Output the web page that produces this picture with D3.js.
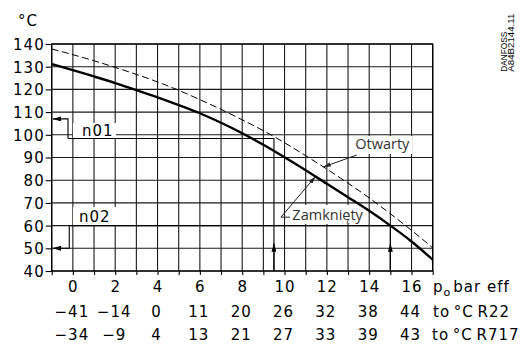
<!DOCTYPE html>
<html>
<head>
<meta charset="utf-8">
<script src="https://cdn.jsdelivr.net/npm/d3@7"></script>
<style>
  html, body { margin: 0; padding: 0; background: #fff; }
  svg { display: block; }
  .lbl { font-family: "DejaVu Sans", sans-serif; font-size: 15px; letter-spacing: 1px; fill: #000; }
  .note { font-family: "Open Sans", sans-serif; font-size: 14.5px; fill: #333; }
</style>
</head>
<body>
<svg id="chart" width="523" height="344"></svg>
<script>
// Evaporating pressure grid (bar eff) and temperature grid (°C)
const pressureGrid = d3.range(-1, 18);
const pressureTicks = [0, 2, 4, 6, 8, 10, 12, 14, 16];
const tempTicks = [40, 50, 60, 70, 80, 90, 100, 110, 120, 130, 140];
// Saturation temperatures at the labelled pressures
const r22Temps = ["\u221241", "\u221214", "0", "11", "20", "26", "32", "38", "44"];
const r717Temps = ["\u221234", "\u22129", "4", "13", "21", "27", "33", "39", "43"];

// Curves: temperature vs pressure
const curvePressures = [-1, 0, 1, 2, 3, 4, 5, 6, 7, 8, 9, 10, 11, 12, 13, 14, 15, 16, 17];
const zamkniety = [131.2, 128.5, 125.7, 122.8, 119.7, 116.5, 113.1, 109.5, 105.3, 100.7, 95.6, 90.1, 84.4, 78.4, 72.5, 66.5, 60.0, 53.0, 45.0];
const otwarty = [137.8, 135.3, 132.6, 129.7, 126.6, 123.3, 119.6, 115.5, 111.2, 106.6, 101.8, 96.5, 90.8, 84.9, 78.7, 72.2, 65.2, 57.9, 50.2];

// Setting examples n01 / n02: set temperature, step temperature, pressure
const n01 = { arrowTemp: 107, stepTemp: 98.4, pressure: 9.5, stepP: -0.23 };
const n02 = { arrowTemp: 50, stepTemp: 60, pressure: 15, stepP: -0.17 };

const W = 523, H = 344;
const margin = { top: 44, right: 90.3, bottom: 73, left: 51.7 };
const svg = d3.select("#chart");

const x = d3.scaleLinear().domain([-1, 17]).range([margin.left, W - margin.right]);
const y = d3.scaleLinear().domain([40, 140]).range([H - margin.bottom, margin.top]);

// defs: arrow heads
const defs = svg.append("defs");
defs.append("marker")
  .attr("id", "arrow")
  .attr("viewBox", "0 0 10 6")
  .attr("refX", 10).attr("refY", 3)
  .attr("markerWidth", 10).attr("markerHeight", 5)
  .attr("markerUnits", "userSpaceOnUse")
  .attr("orient", "auto")
  .append("path").attr("d", "M0,0 L10,3 L0,6 Z").attr("fill", "#000");
defs.append("marker")
  .attr("id", "arrowS")
  .attr("viewBox", "0 0 10 6")
  .attr("refX", 10).attr("refY", 3)
  .attr("markerWidth", 8).attr("markerHeight", 4.5)
  .attr("markerUnits", "userSpaceOnUse")
  .attr("orient", "auto")
  .append("path").attr("d", "M0,0 L10,3 L0,6 Z").attr("fill", "#222");

// grid
const grid = svg.append("g").attr("stroke", "#1a1a1a").attr("stroke-width", 1.1);
grid.selectAll("line.v").data(pressureGrid).join("line")
  .attr("x1", d => x(d)).attr("x2", d => x(d))
  .attr("y1", y(140)).attr("y2", y(40));
grid.selectAll("line.h").data(tempTicks).join("line")
  .attr("x1", x(-1)).attr("x2", x(17))
  .attr("y1", d => y(d)).attr("y2", d => y(d));

// y axis with ticks and labels
const yAxis = svg.append("g")
  .attr("transform", `translate(${x(-1)},0)`)
  .call(d3.axisLeft(y).tickValues(tempTicks).tickSize(6).tickPadding(1).tickFormat(d3.format("d")));
yAxis.select(".domain").remove();
yAxis.selectAll(".tick line").attr("stroke", "#000").attr("stroke-width", 1.1);
yAxis.selectAll(".tick text").attr("class", "lbl").attr("dy", "0.36em").attr("fill", "#000");

// x axis ticks and first label row
const xAxis = svg.append("g")
  .attr("transform", `translate(0,${y(40)})`)
  .call(d3.axisBottom(x).tickValues(pressureGrid).tickSize(4)
    .tickFormat(d => pressureTicks.includes(d) ? String(d) : ""));
xAxis.select(".domain").remove();
xAxis.selectAll(".tick line").attr("stroke", "#000").attr("stroke-width", 1.1);
xAxis.selectAll(".tick text").attr("class", "lbl").attr("y", 21).attr("dy", 0).attr("fill", "#000");

// unit labels
svg.append("text").attr("class", "lbl").attr("x", 18).attr("y", 26).text("\u00B0C");

const row1 = 292, row2 = 316.5, row3 = 340;
const pLabel = svg.append("text").attr("class", "lbl").attr("x", 433).attr("y", row1);
pLabel.append("tspan").text("p");
pLabel.append("tspan").attr("dy", 4).attr("font-size", 11).text("o");
pLabel.append("tspan").attr("dy", -4).attr("dx", 2).text("bar eff");

svg.append("g").selectAll("text").data(r22Temps).join("text")
  .attr("class", "lbl").attr("text-anchor", "middle")
  .attr("x", (d, i) => x(pressureTicks[i]) - 1).attr("y", row2).text(d => d);
svg.append("g").selectAll("text").data(r717Temps).join("text")
  .attr("class", "lbl").attr("text-anchor", "middle")
  .attr("x", (d, i) => x(pressureTicks[i]) - 1).attr("y", row3).text(d => d);
svg.append("text").attr("class", "lbl").attr("x", 433).attr("y", row2)
  .attr("word-spacing", -2).text("to \u00B0C R22");
svg.append("text").attr("class", "lbl").attr("x", 432).attr("y", row3)
  .attr("word-spacing", -2).text("to \u00B0C R717");

// frame
svg.append("rect")
  .attr("x", x(-1)).attr("y", y(140))
  .attr("width", x(17) - x(-1)).attr("height", y(40) - y(140))
  .attr("fill", "none").attr("stroke", "#000").attr("stroke-width", 1.3);

// white backgrounds under annotation texts
const bg = svg.append("g").attr("fill", "#fff");
bg.append("rect").attr("x", 73).attr("y", 123).attr("width", 43).attr("height", 15);
bg.append("rect").attr("x", 73).attr("y", 207).attr("width", 55).attr("height", 18);
bg.append("rect").attr("x", 351).attr("y", 136).attr("width", 61).attr("height", 18);
bg.append("rect").attr("x", 290).attr("y", 205).attr("width", 76).attr("height", 19);

// curves
const line = d3.line()
  .x((d, i) => x(curvePressures[i]))
  .y(d => y(d))
  .curve(d3.curveMonotoneX);
svg.append("path").datum(otwarty)
  .attr("d", line).attr("fill", "none")
  .attr("stroke", "#000").attr("stroke-width", 1)
  .attr("stroke-dasharray", "7,3.5");
svg.append("path").datum(zamkniety)
  .attr("d", line).attr("fill", "none")
  .attr("stroke", "#000").attr("stroke-width", 2.4);

// n01 / n02 setting paths
function settingPath(s) {
  const g = svg.append("g").attr("fill", "none").attr("stroke", "#000").attr("stroke-width", 1.1);
  // arrow to the temperature axis
  g.append("path")
    .attr("d", `M${x(s.stepP)},${y(s.stepTemp)} V${y(s.arrowTemp)} H${x(-1) + 1}`)
    .attr("marker-end", "url(#arrow)");
  // horizontal to the pressure, then down to the axis
  g.append("path")
    .attr("d", `M${x(s.stepP)},${y(s.stepTemp)} H${x(s.pressure)} V${y(40)}`);
  // upward arrow on the pressure line
  g.append("line")
    .attr("x1", x(s.pressure)).attr("x2", x(s.pressure))
    .attr("y1", y(40)).attr("y2", y(52.2))
    .attr("marker-end", "url(#arrow)");
}
settingPath(n01);
settingPath(n02);

svg.append("text").attr("class", "lbl").attr("x", 82).attr("y", 136).text("n01");
svg.append("text").attr("class", "lbl").attr("x", 79).attr("y", 222).text("n02");

// curve labels with leaders
const notes = svg.append("g");
notes.append("text").attr("class", "note").attr("x", x(13.34)).attr("y", y(93.7)).text("Otwarty");
notes.append("line")
  .attr("x1", x(13.41)).attr("y1", y(91.1))
  .attr("x2", x(11.83)).attr("y2", y(85.8))
  .attr("stroke", "#222").attr("stroke-width", 1)
  .attr("marker-end", "url(#arrowS)");
notes.append("text").attr("class", "note").attr("x", x(10.37)).attr("y", y(62.5)).text("Zamkni\u0119ty");
notes.append("path")
  .attr("d", `M${x(10.26)},${y(63.7)} H${x(9.83)} L${x(11.46)},${y(81.6)}`)
  .attr("fill", "none").attr("stroke", "#222").attr("stroke-width", 1)
  .attr("marker-end", "url(#arrowS)");

// drawing reference
const ref = svg.append("g").attr("font-family", "'Liberation Sans', Arial, sans-serif")
  .attr("font-size", 8.5).attr("fill", "#000");
ref.append("text").attr("transform", "translate(507,71.7) rotate(-90)")
  .attr("textLength", 40).attr("lengthAdjust", "spacingAndGlyphs").text("DANFOSS");
ref.append("text").attr("transform", "translate(514,71.7) rotate(-90)")
  .attr("textLength", 58).attr("lengthAdjust", "spacingAndGlyphs").text("A84B2144.11");
</script>
</body>
</html>
